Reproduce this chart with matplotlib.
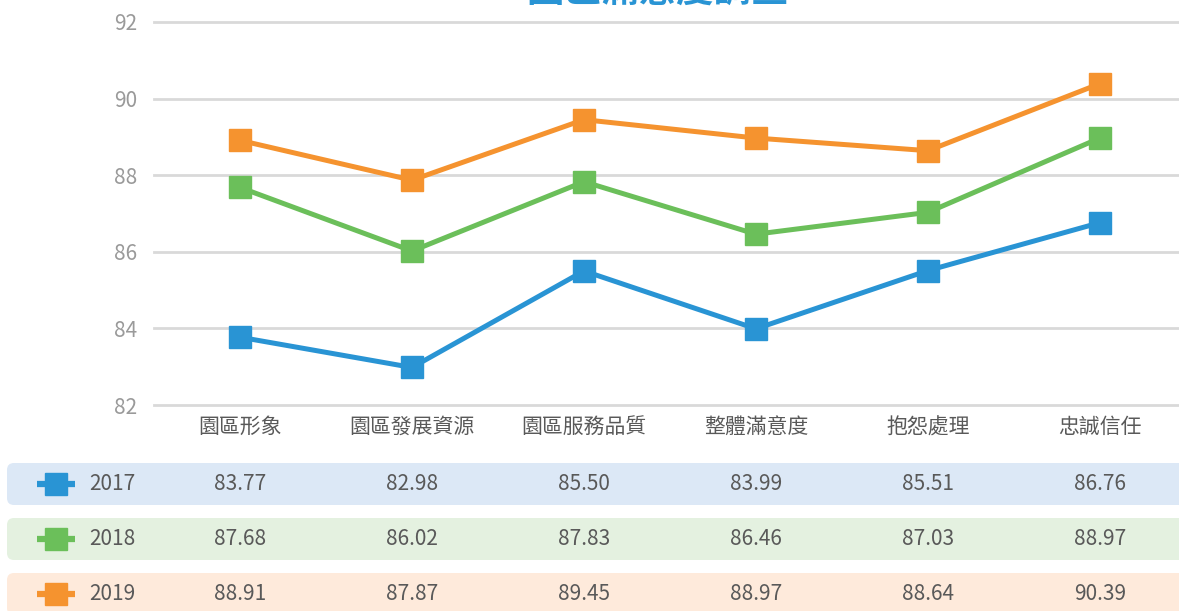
import matplotlib
matplotlib.use("Agg")
import matplotlib.pyplot as plt
from matplotlib.patches import FancyBboxPatch
import matplotlib.transforms as mtransforms

plt.rcParams['font.family'] = ['Noto Sans CJK TC', 'DejaVu Sans']

categories = ["園區形象", "園區發展資源", "園區服務品質", "整體滿意度", "抱怨處理", "忠誠信任"]
years = ["2017", "2018", "2019"]
v2017 = [83.77, 82.98, 85.50, 83.99, 85.51, 86.76]
v2018 = [87.68, 86.02, 87.83, 86.46, 87.03, 88.97]
v2019 = [88.91, 87.87, 89.45, 88.97, 88.64, 90.39]
series = [v2017, v2018, v2019]
colors = ["#2994d4", "#6bbf5a", "#f5932f"]
row_bg = ["#dce8f6", "#e4f1e0", "#feeadb"]
title = "園區滿意度調查"

W, H = 1179, 611
fig = plt.figure(figsize=(W / 100, H / 100), dpi=100)

# background layer in pixel coordinates for the table rows
bg = fig.add_axes([0, 0, 1, 1], zorder=-1)
bg.set_xlim(0, W); bg.set_ylim(H, 0); bg.axis("off")

top, bottom, left = 22, 405, 154
ax = fig.add_axes([left / W, (H - bottom) / H, (W - left) / W, (bottom - top) / H])
x = list(range(len(categories)))
for vals, c in zip(series, colors):
    ax.plot(x, vals, color=c, lw=3.6, marker="s", ms=16.5, zorder=3, clip_on=False)

ax.set_xlim(-0.5, 5.46)
ax.set_ylim(82, 92)
ax.set_yticks(range(82, 93, 2))
ax.set_xticks(x)
ax.set_xticklabels(categories)
ax.tick_params(axis="both", length=0, labelsize=15)
ax.tick_params(axis="y", pad=12, labelcolor="#9a9a9a")
ax.tick_params(axis="x", pad=8, labelcolor="#595959")
ax.yaxis.grid(True, color="#d9d9d9", lw=2)
for gl in ax.get_ygridlines():
    gl.set_clip_on(False)
ax.set_axisbelow(True)
for s in ax.spines.values():
    s.set_visible(False)

# table rows under the chart
row_y = [484, 539, 594]
trans = mtransforms.blended_transform_factory(ax.transData, bg.transData)
for yr, vals, c, fc, ry in zip(years, series, colors, row_bg, row_y):
    bg.add_patch(FancyBboxPatch((7, ry - 21), 1200, 42,
                                boxstyle="round,pad=0,rounding_size=7",
                                fc=fc, ec="none"))
    bg.plot([37, 75], [ry, ry], color=c, lw=4.5, solid_capstyle="butt")
    bg.plot([56], [ry], marker="s", ms=16.5, color=c, ls="none")
    bg.text(89, ry, yr, fontsize=15, color="#595959", va="center", ha="left")
    for i, v in enumerate(vals):
        bg.text(i, ry, f"{v:.2f}", transform=trans, fontsize=15,
                color="#595959", va="center", ha="center")

# title sits mostly above the top edge, as in the original crop
fig.text(658 / W, 1 - 10 / H, title, fontsize=27, fontweight="bold",
         color="#2994d4", ha="center", va="bottom")

fig.savefig("out.png", dpi=100)
